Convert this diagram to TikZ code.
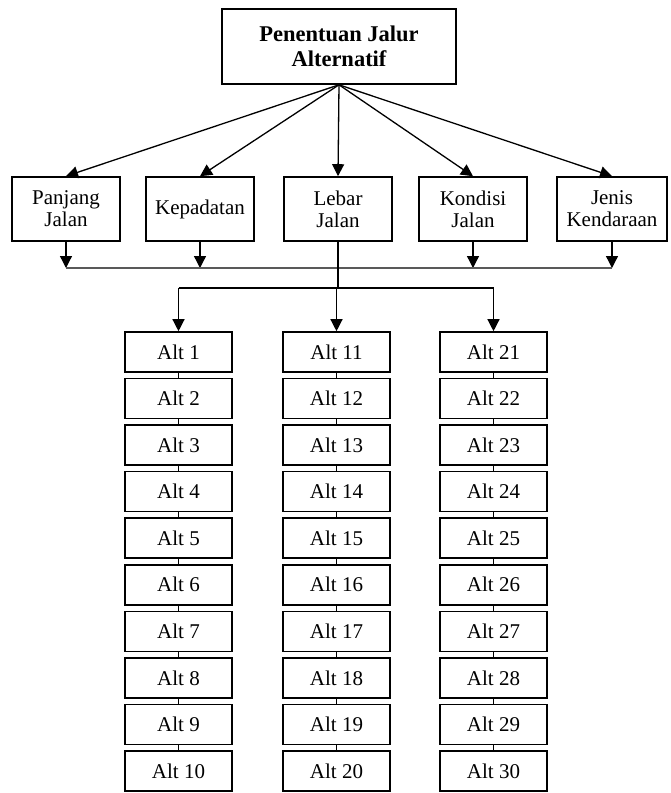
\documentclass[tikz,border=0pt]{standalone}
\usepackage{fontspec}
\setmainfont{Liberation Serif}
\usetikzlibrary{arrows.meta,calc}

\begin{document}
\begin{tikzpicture}[x=1pt,y=-1pt,
    box/.style={draw,line width=1.6pt,align=center,inner sep=2pt},
    crit/.style={box,minimum width=108pt,minimum height=64pt,font=\fontsize{21}{22}\selectfont},
    alt/.style={box,minimum width=107pt,minimum height=40pt,font=\fontsize{21}{24}\selectfont},
    arr/.style={line width=1.3pt,-{Triangle[width=12pt,length=12pt]}}]
  \useasboundingbox (0,0) rectangle (670,793);
  % judul
  \node[box,minimum width=234pt,minimum height=75pt,font=\bfseries\fontsize{22.5}{25}\selectfont]
    (judul) at (339,46.5) {Penentuan Jalur\\Alternatif};
  % kriteria
  \node[crit] (pj) at (66,209) {Panjang\\Jalan};
  \node[crit] (kp) at (200,209) {Kepadatan};
  \node[crit] (lb) at (338,209) {Lebar\\Jalan};
  \node[crit] (kd) at (473,209) {Kondisi\\Jalan};
  \node[crit,minimum width=110pt] (jk) at (612,209) {Jenis\\Kendaraan};
  \foreach \k in {pj,kp,lb,kd,jk}
    \draw[arr] (judul.south) -- (\k.north);
  % alternatif
  \foreach \c/\x in {0/178.5,1/336.5,2/493.5}
    \foreach \i in {1,...,10}{
      \pgfmathtruncatemacro{\n}{\c*10+\i}
      \node[alt] (a\n) at (\x,{352+(\i-1)*46.55}) {Alt \n};
    }
  \foreach \c in {0,10,20}
    \foreach \i in {1,...,9}{
      \pgfmathtruncatemacro{\p}{\c+\i}
      \pgfmathtruncatemacro{\q}{\c+\i+1}
      \draw[line width=1.3pt] (a\p.south) -- (a\q.north);
    }
  % garis penghubung
  \coordinate (bus) at (0,268);
  \coordinate (split) at (0,288);
  \foreach \k in {pj,kp,kd,jk}
    \draw[arr] (\k.south) -- (\k.south |- bus);
  \draw[black!65,line width=2.2pt] (pj.south |- bus) -- (jk.south |- bus);
  \draw[line width=1.3pt] (lb.south) -- (lb.south |- split);
  \draw[line width=1.3pt] (a1.north |- split) -- (a21.north |- split);
  \foreach \n in {1,11,21}
    \draw[arr] (a\n.north |- split) -- (a\n.north);
\end{tikzpicture}
\end{document}
